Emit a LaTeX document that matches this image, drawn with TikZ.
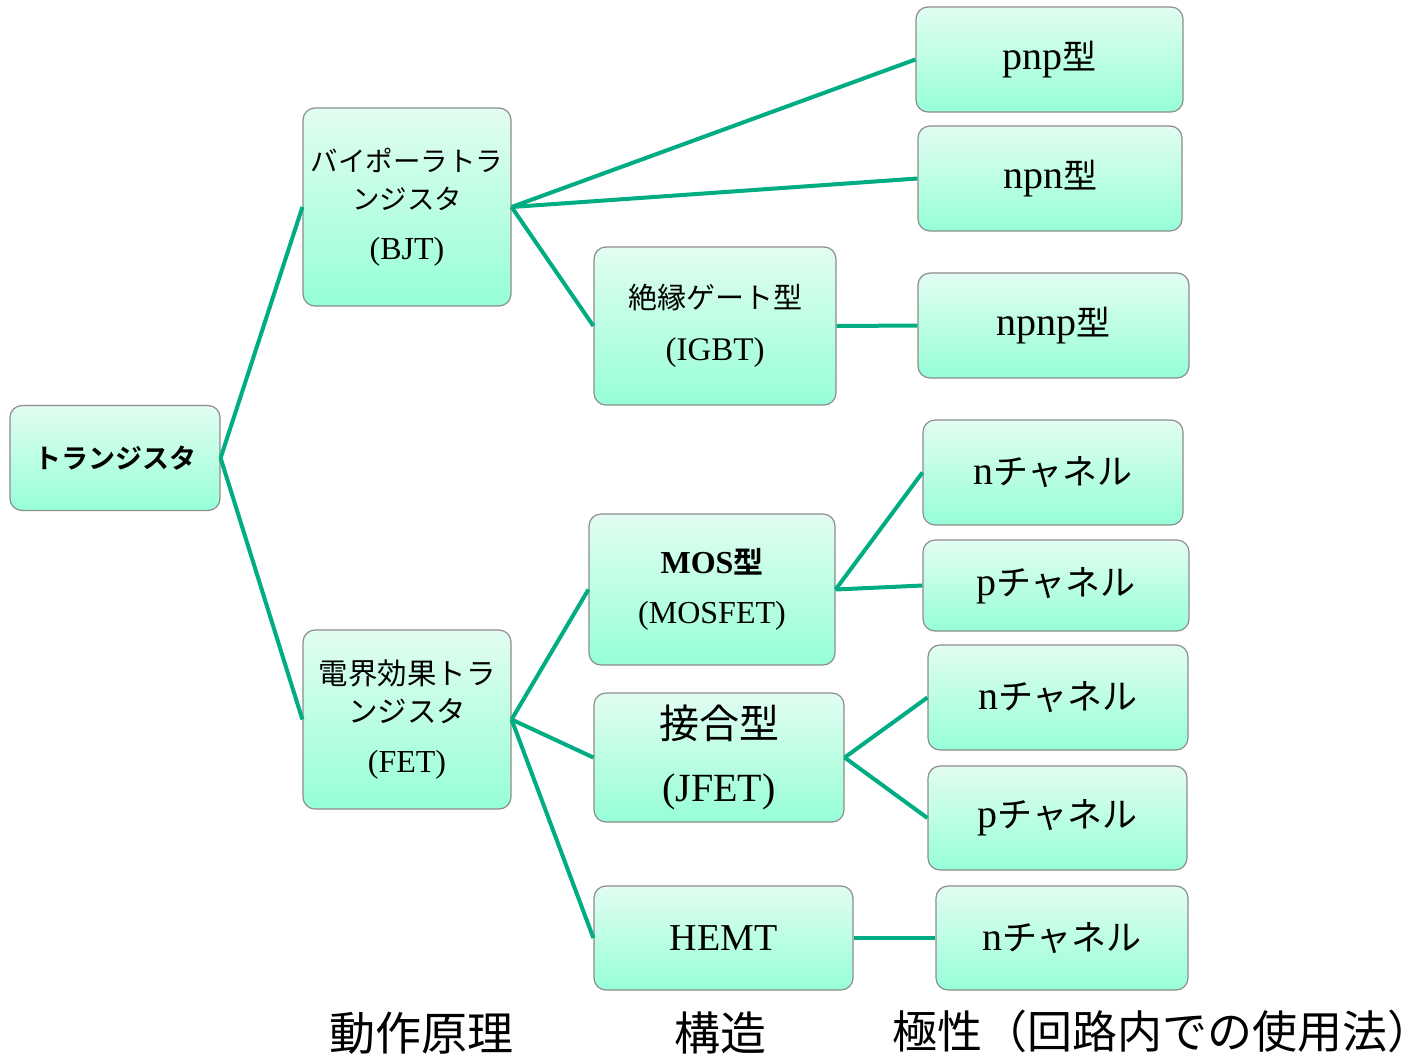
\documentclass[tikz,border=0pt]{standalone}
\usepackage{fontspec}
\setmainfont{Liberation Serif}
\newfontfamily\jpfont{Noto Sans CJK JP}[BoldFont={Noto Sans CJK JP Bold}]
\newcommand{\jp}[2]{{\fontsize{#1}{#1}\selectfont\jpfont #2}}
\definecolor{linkgreen}{RGB}{0,172,130}
\definecolor{boxtop}{RGB}{226,253,241}
\definecolor{boxbottom}{RGB}{150,255,215}
\tikzset{
  box/.style={draw=black!45,line width=1.2pt,rounded corners=12pt,top color=boxtop,bottom color=boxbottom,align=center,inner sep=0pt},
  leaf/.style={box,font=\fontsize{40}{44}\selectfont,minimum height=105pt},
  link/.style={draw=linkgreen,line width=4pt},
  caption/.style={font=\fontsize{46}{50}\selectfont\jpfont,inner sep=0pt},
}

\begin{document}
\begin{tikzpicture}[x=1pt,y=1pt]
              \useasboundingbox (0,0) rectangle (1413,-1058);
              % level 1
              \node[box,font=\fontsize{27}{32}\selectfont\bfseries,minimum width=210pt,minimum height=105pt](root)at(115,-458){\jp{27}{トランジスタ}};
              % level 2
              \node[box,font=\fontsize{32}{38}\selectfont,minimum width=208pt,minimum height=198pt](bjt)at(407,-207){\jp{27.5}{バイポーラトラ}\\\jp{27.5}{ンジスタ}\\[12pt](BJT)};
              \node[box,font=\fontsize{32}{38}\selectfont,minimum width=208pt,minimum height=179pt](fet)at(407,-719.5){\jp{29.5}{電界効果トラ}\\\jp{29.5}{ンジスタ}\\[12pt](FET)};
              % level 3
              \node[box,font=\fontsize{33}{38}\selectfont,minimum width=242pt,minimum height=158pt](igbt)at(715,-326){\jp{29}{絶縁ゲート型}\\[14pt](IGBT)};
              \node[box,font=\fontsize{32}{38}\selectfont,minimum width=246pt,minimum height=151pt](mos)at(712,-589.5){{\bfseries MOS\jp{30}{型}}\\[12pt](MOSFET)};
              \node[box,font=\fontsize{40}{44}\selectfont,minimum width=250pt,minimum height=129pt](jfet)at(719,-757.5){\jp{40}{接合型}\\[19pt](JFET)};
              \node[box,font=\fontsize{38}{42}\selectfont,minimum width=259pt,minimum height=104pt](hemt)at(723.5,-938){HEMT};
              % level 4
              \node[leaf,minimum width=267pt](pnp)at(1049.5,-59.5){pnp\jp{34}{型}};
              \node[leaf,minimum width=264pt](npn)at(1050,-178.5){npn\jp{34}{型}};
              \node[leaf,minimum width=271pt](npnp)at(1053.5,-325.5){npnp\jp{34}{型}};
              \node[leaf,minimum width=260pt](mosn)at(1053,-472.5){n\jp{35}{チャネル}};
              \node[leaf,minimum width=266pt,minimum height=91pt](mosp)at(1056,-585.5){p\jp{35}{チャネル}};
              \node[leaf,minimum width=260pt](jfetn)at(1058,-697.5){n\jp{35}{チャネル}};
              \node[leaf,minimum width=259pt,minimum height=104pt](jfetp)at(1057.5,-818){p\jp{35}{チャネル}};
              \node[leaf,minimum width=252pt,minimum height=104pt](hemtn)at(1062,-938){n\jp{35}{チャネル}};
              % connectors
              \draw[link](root.east)--(bjt.west);
              \draw[link](root.east)--(fet.west);
              \draw[link](bjt.east)--(pnp.west);
              \draw[link](bjt.east)--(npn.west);
              \draw[link](bjt.east)--(igbt.west);
              \draw[link](igbt.east)--(npnp.west);
              \draw[link](fet.east)--(mos.west);
              \draw[link](fet.east)--(jfet.west);
              \draw[link](fet.east)--(hemt.west);
              \draw[link](mos.east)--(mosn.west);
              \draw[link](mos.east)--(mosp.west);
              \draw[link](jfet.east)--(jfetn.west);
              \draw[link](jfet.east)--(jfetp.west);
              \draw[link](hemt.east)--(hemtn.west);
              % captions
              \node[caption](principle)at(421,-1033){動作原理};
              \node[caption](structure)at(720,-1033){構造};
              \node[caption,font=\fontsize{45}{50}\selectfont\jpfont](polarity)at(1156,-1031){極性（回路内での使用法）\kern-12pt};
            \end{tikzpicture}
\end{document}
